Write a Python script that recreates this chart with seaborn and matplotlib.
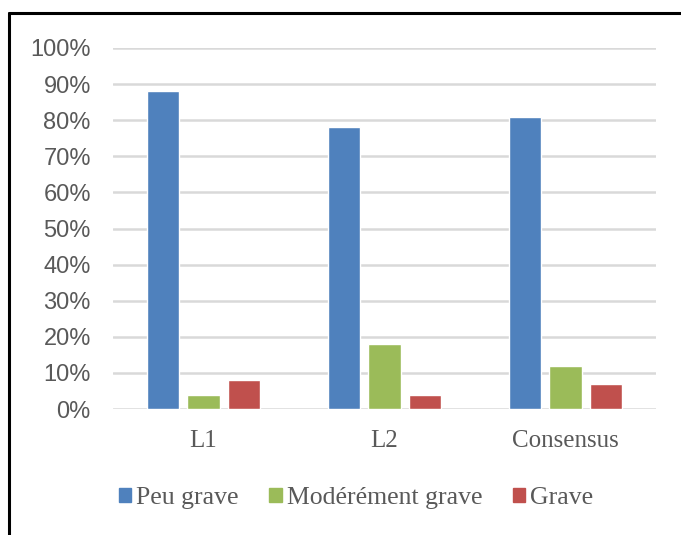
import pandas as pd
import numpy as np
import matplotlib
matplotlib.use("Agg")
import matplotlib.pyplot as plt
import seaborn as sns
from matplotlib.lines import Line2D
from matplotlib.ticker import PercentFormatter

# data
categories = ['L1', 'L2', 'Consensus']
severity = ['Peu grave', 'Modérément grave', 'Grave']
peu_grave = [0.88, 0.78, 0.81]
moderement_grave = [0.04, 0.18, 0.12]
grave = [0.08, 0.04, 0.07]
colors = ['#4F81BD', '#9BBB59', '#C0504D']

df = pd.DataFrame({
    'cat': categories * 3,
    'sev': np.repeat(severity, 3),
    'val': peu_grave + moderement_grave + grave,
})

sns.set_style('white')
plt.rcParams['font.family'] = ['Liberation Sans', 'DejaVu Sans']

fig = plt.figure(figsize=(6.81, 5.35), dpi=100)
ax = fig.add_axes([113 / 681, 1 - 409 / 535, 543 / 681, 361 / 535])

sns.barplot(data=df, x='cat', y='val', hue='sev', order=categories,
            hue_order=severity, palette=colors, width=0.67, gap=0.2,
            saturation=1, ax=ax, legend=False)

ax.set_ylim(0, 1)
ax.set_yticks(np.arange(0, 1.01, 0.1))
ax.yaxis.set_major_formatter(PercentFormatter(1.0, decimals=0))
ax.grid(axis='y', color='#D9D9D9', lw=1.8)
ax.set_axisbelow(True)
for s in ax.spines.values():
    s.set_visible(False)
ax.set_xlabel('')
ax.set_ylabel('')
ax.tick_params(axis='y', length=0, pad=16, labelsize=17, labelcolor='#595959')
ax.tick_params(axis='x', length=0, pad=15, labelsize=18, labelcolor='#595959')
for t in ax.get_xticklabels():
    t.set_family('Liberation Serif')

handles = [plt.Rectangle((0, 0), 1, 1, color=c) for c in colors]
leg = fig.legend(handles, severity, loc='center', bbox_to_anchor=(0.523, 1 - 498 / 535),
                 ncol=3, frameon=False, handlelength=0.47, handleheight=0.47,
                 handletextpad=0.2, columnspacing=1.2,
                 prop={'family': 'Liberation Serif', 'size': 18.5})
for t in leg.get_texts():
    t.set_color('#595959')

# black frame, cropped on the right and bottom
fig.add_artist(Line2D([9 / 681, 9 / 681], [0, 1 - 13 / 535], color='black', lw=2.2,
                      transform=fig.transFigure))
fig.add_artist(Line2D([9 / 681, 1], [1 - 13 / 535, 1 - 13 / 535], color='black', lw=2.2,
                      transform=fig.transFigure))

fig.savefig('out.png', dpi=100)
